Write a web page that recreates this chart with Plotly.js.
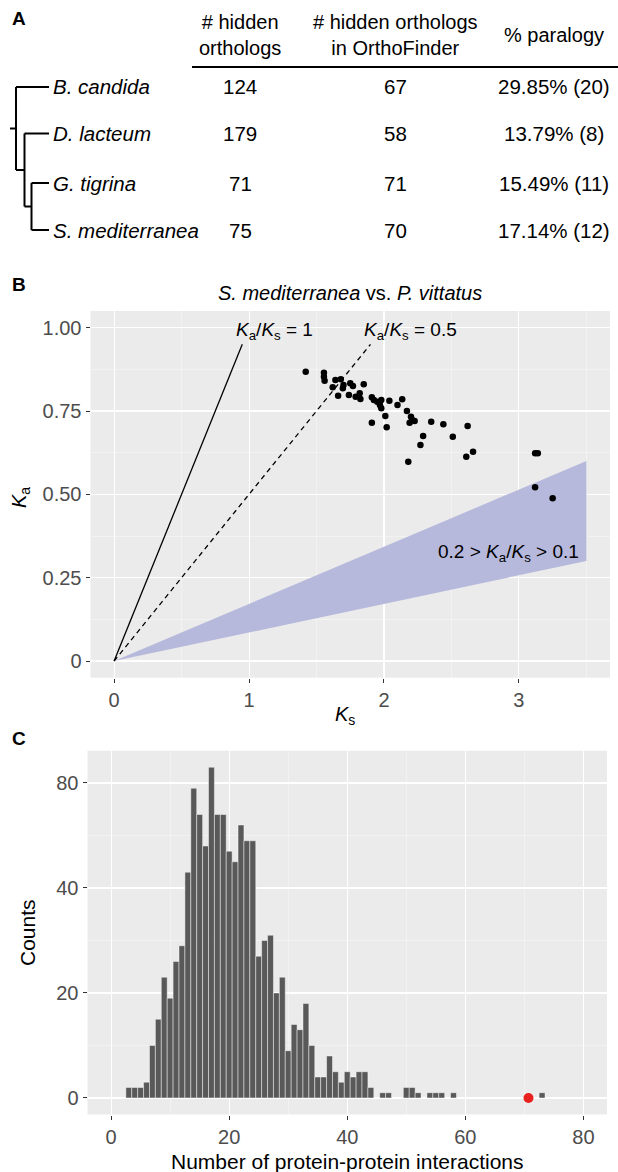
<!DOCTYPE html>
<html>
<head>
<meta charset="utf-8">
<script src="https://cdn.plot.ly/plotly-3.0.1.min.js"></script>
<style>
  html, body { margin: 0; padding: 0; background: #ffffff; }
  #chart { width: 618px; height: 1172px; }
</style>
</head>
<body>
<div id="chart"></div>
<script>
// ---------- Panel A: table data ----------
const species = ['B. candida', 'D. lacteum', 'G. tigrina', 'S. mediterranea'];
const hiddenOrthologs = [124, 179, 71, 75];
const hiddenInOrthoFinder = [67, 58, 71, 70];
const paralogyPct = ['29.85%', '13.79%', '15.49%', '17.14%'];
const paralogyN = [20, 8, 11, 12];
const headers = ['# hidden<br>orthologs', '# hidden orthologs<br>in OrthoFinder', '% paralogy'];

// ---------- Panel B: Ka / Ks scatter ----------
const ks = [1.42, 1.555, 1.555, 1.56, 1.64, 1.68, 1.62, 1.695, 1.70, 1.75, 1.77, 1.66, 1.74, 1.79, 1.82, 1.85,
            1.825, 1.91, 1.925, 1.95, 1.98, 1.97, 1.98, 2.04, 2.10, 2.135, 1.91, 2.01, 2.02, 2.17, 2.20, 2.21,
            2.19, 2.227, 2.18, 2.27, 2.29, 2.35, 2.44, 2.51, 2.62, 2.61, 2.66, 3.12, 3.14, 3.12, 3.25];
const ka = [0.868, 0.865, 0.853, 0.841, 0.843, 0.845, 0.821, 0.818, 0.828, 0.833, 0.825, 0.796, 0.798, 0.793, 0.803, 0.830,
            0.786, 0.791, 0.783, 0.778, 0.783, 0.768, 0.758, 0.781, 0.768, 0.785, 0.715, 0.735, 0.701, 0.750, 0.733, 0.723,
            0.715, 0.720, 0.598, 0.648, 0.675, 0.718, 0.710, 0.673, 0.705, 0.613, 0.628, 0.623, 0.623, 0.521, 0.488];
const ratioSolid = 1.0;      // Ka/Ks = 1
const ratioDashed = 0.5;     // Ka/Ks = 0.5
const ratioLineTopKa = 0.95; // reference lines end at this Ka
const bandKs = [0, 3.5];
const bandLowKa = [0, 0.30];
const bandHighKa = [0, 0.60];

// ---------- Panel C: histogram of PPI counts ----------
const ppiBins = [3, 4, 5, 6, 7, 8, 9, 10, 11, 12, 13, 14, 15, 16, 17, 18, 19, 20, 21, 22, 23, 24, 25, 26, 27, 28,
                 29, 30, 31, 32, 33, 34, 35, 36, 37, 38, 39, 40, 41, 42, 43, 44, 46, 47, 50, 51, 52, 54, 55, 56, 58, 73];
const ppiCounts = [2, 2, 2, 3, 10, 15, 23, 19, 26, 29, 43, 59, 54, 48, 63, 54, 54, 47, 45, 52, 49, 49, 27, 30, 31, 20,
                   23, 9, 14, 13, 18, 10, 4, 4, 8, 5, 3, 5, 4, 5, 5, 2, 1, 1, 2, 2, 1, 1, 1, 1, 1, 1];
const highlightPPI = [70.7];
const highlightY = [0];
const ppiTickVals = [0, 20, 40, 60];
const ppiTickText = ['0', '20', '40', '80'];

// ---------- geometry helpers (pixel -> paper) ----------
const W = 618, H = 1172;
const px = x => x / W;
const py = y => 1 - y / H;

const FONT = 'Liberation Sans, Arial, Helvetica, sans-serif';
const TICKC = '#4d4d4d';
const F = (size, extra) => Object.assign({family: FONT, size: size, color: '#000'}, extra || {});

const traces = [];

// band
traces.push({
  x: [bandKs[0], bandKs[1], bandKs[1], bandKs[0]],
  y: [bandLowKa[0], bandHighKa[1], bandLowKa[1], bandLowKa[0]],
  type: 'scatter', mode: 'lines', fill: 'toself',
  fillcolor: '#b6b9dc', line: {width: 0}, hoverinfo: 'skip',
  xaxis: 'x', yaxis: 'y'
});
// reference lines
traces.push({
  x: [0, ratioLineTopKa / ratioSolid], y: [0, ratioLineTopKa],
  type: 'scatter', mode: 'lines', line: {color: '#000', width: 1.3},
  xaxis: 'x', yaxis: 'y'
});
traces.push({
  x: [0, ratioLineTopKa / ratioDashed], y: [0, ratioLineTopKa],
  type: 'scatter', mode: 'lines', line: {color: '#000', width: 1.3, dash: '5px,4px'},
  xaxis: 'x', yaxis: 'y'
});
// points
traces.push({
  x: ks, y: ka, type: 'scatter', mode: 'markers',
  marker: {color: '#000', size: 6.5},
  xaxis: 'x', yaxis: 'y'
});
// histogram bars
traces.push({
  x: ppiBins, y: ppiCounts, type: 'bar', width: 1,
  marker: {color: '#595959', line: {color: 'rgba(255,255,255,0.75)', width: 0.6}},
  xaxis: 'x2', yaxis: 'y2'
});
// highlighted point
traces.push({
  x: highlightPPI, y: highlightY, type: 'scatter', mode: 'markers',
  marker: {color: '#e8211f', size: 10}, cliponaxis: false,
  xaxis: 'x2', yaxis: 'y2'
});

const axisCommon = {
  showgrid: true, gridcolor: '#ffffff', gridwidth: 1.1,
  zeroline: false, showline: false,
  ticks: 'outside', ticklen: 4, tickwidth: 1, tickcolor: '#333333',
  tickfont: {family: FONT, size: 20, color: TICKC},
  fixedrange: true
};
const minorCommon = {showgrid: true, gridcolor: '#f6f6f6', gridwidth: 0.6, ticks: ''};

const layout = {
  width: W, height: H,
  margin: {l: 0, r: 0, t: 0, b: 0},
  paper_bgcolor: '#ffffff',
  plot_bgcolor: '#ebebeb',
  showlegend: false,
  bargap: 0,
  font: {family: FONT, color: '#000'},
  xaxis: Object.assign({}, axisCommon, {
    domain: [px(90.5), px(610)], range: [-0.175, 3.675], anchor: 'y',
    tickvals: [0, 1, 2, 3], ticktext: ['0', '1', '2', '3'],
    minor: Object.assign({dtick: 0.5, tick0: 0.5}, minorCommon)
  }),
  yaxis: Object.assign({}, axisCommon, {
    domain: [py(677.7), py(311)], range: [-0.05, 1.05], anchor: 'x',
    tickvals: [0, 0.25, 0.5, 0.75, 1.0], ticktext: ['0', '0.25', '0.50', '0.75', '1.00'],
    minor: Object.assign({dtick: 0.125, tick0: 0.125}, minorCommon)
  }),
  xaxis2: Object.assign({}, axisCommon, {
    domain: [px(87.5), px(607)], range: [-4, 84], anchor: 'y2',
    tickvals: [0, 20, 40, 60, 80],
    minor: Object.assign({dtick: 10, tick0: 10}, minorCommon)
  }),
  yaxis2: Object.assign({}, axisCommon, {
    domain: [py(1114.5), py(750.7)], range: [-3.15, 66.15], anchor: 'x2',
    tickvals: ppiTickVals, ticktext: ppiTickText,
    minor: Object.assign({dtick: 10, tick0: 10}, minorCommon)
  }),
  shapes: [],
  annotations: []
};

const ann = layout.annotations;
function txt(x, y, text, opts) {
  ann.push(Object.assign({
    xref: 'paper', yref: 'paper', x: px(x), y: py(y), text: text,
    showarrow: false, xanchor: 'center', yanchor: 'middle',
    font: F(20)
  }, opts || {}));
}

// panel letters
txt(10, 18, '<b>A</b>', {xanchor: 'left', font: F(19)});
txt(10, 284, '<b>B</b>', {xanchor: 'left', font: F(19)});
txt(10, 738, '<b>C</b>', {xanchor: 'left', font: F(19)});

// ---- Panel A table ----
const colX = [240, 395, 554];
const rowY = [87, 133.5, 183, 230];
txt(colX[0], 35, headers[0], {font: F(20)});
txt(colX[1], 35, headers[1], {font: F(20)});
txt(colX[2], 35, headers[2], {font: F(20)});
layout.shapes.push({type: 'line', xref: 'paper', yref: 'paper',
  x0: px(192), x1: px(618), y0: py(67), y1: py(67), line: {color: '#000', width: 2}});
for (let i = 0; i < species.length; i++) {
  txt(51, rowY[i], '<i>' + species[i] + '</i>', {xanchor: 'left', font: F(20.5)});
  txt(colX[0], rowY[i], String(hiddenOrthologs[i]), {font: F(20.5)});
  txt(colX[1], rowY[i], String(hiddenInOrthoFinder[i]), {font: F(20.5)});
  txt(colX[2], rowY[i], paralogyPct[i] + ' (' + paralogyN[i] + ')', {font: F(20.5)});
}
// tree
function seg(x0, y0, x1, y1) {
  layout.shapes.push({type: 'line', xref: 'paper', yref: 'paper',
    x0: px(x0), y0: py(y0), x1: px(x1), y1: py(y1), line: {color: '#000', width: 2}});
}
const tipX = 49;
const yGS = (rowY[2] + rowY[3]) / 2;
const yDGS = (rowY[1] + yGS) / 2;
const yRoot = (rowY[0] + yDGS) / 2;
seg(31.5, rowY[2], tipX, rowY[2]);
seg(31.5, rowY[3], tipX, rowY[3]);
seg(31.5, rowY[2], 31.5, rowY[3]);
seg(24.5, yGS, 31.5, yGS);
seg(24.5, rowY[1], tipX, rowY[1]);
seg(24.5, rowY[1], 24.5, yGS);
seg(16, yDGS, 24.5, yDGS);
seg(16, rowY[0], tipX, rowY[0]);
seg(16, rowY[0], 16, yDGS);
seg(10, yRoot, 16, yRoot);

// ---- Panel B texts ----
txt(350, 293, '<i>S. mediterranea</i> vs. <i>P. vittatus</i>', {font: F(20)});
ann.push({xref: 'x', yref: 'y', x: 0.89, y: 0.99, xanchor: 'left', yanchor: 'middle', showarrow: false,
  text: '<i>K</i><sub>a</sub>/<i>K</i><sub>s</sub> = 1', font: F(19)});
ann.push({xref: 'x', yref: 'y', x: 1.84, y: 0.99, xanchor: 'left', yanchor: 'middle', showarrow: false,
  text: '<i>K</i><sub>a</sub>/<i>K</i><sub>s</sub> = 0.5', font: F(19)});
ann.push({xref: 'x', yref: 'y', x: 3.46, y: 0.325, xanchor: 'right', yanchor: 'middle', showarrow: false,
  text: '0.2 &gt; <i>K</i><sub>a</sub>/<i>K</i><sub>s</sub> &gt; 0.1', font: F(19)});
txt(345, 715, '<i>K</i><sub>s</sub>', {font: F(20)});
txt(20, 498, '<i>K</i><sub>a</sub>', {textangle: -90, font: F(20)});

// ---- Panel C texts ----
txt(347, 1161, 'Number of protein-protein interactions', {font: F(21)});
txt(27, 933, 'Counts', {textangle: -90, font: F(21)});

Plotly.newPlot('chart', traces, layout, {staticPlot: true, displayModeBar: false});
</script>
</body>
</html>
